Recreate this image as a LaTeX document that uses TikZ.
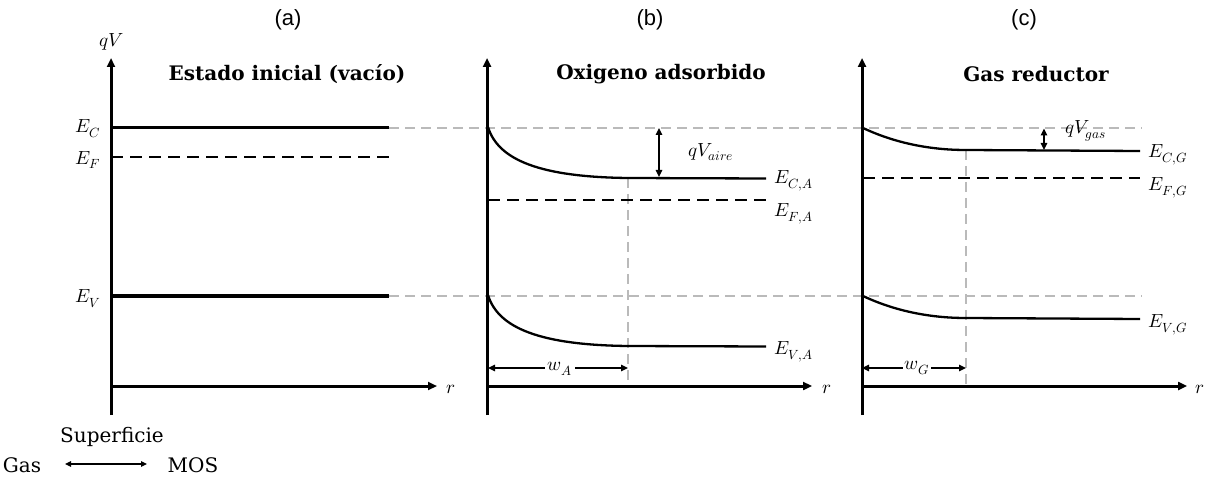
\documentclass[tikz,border=0pt]{standalone}
\usepackage{fontspec}
\usepackage{unicode-math}
\setmainfont{DejaVu Serif}
\setmathfont{Latin Modern Math}
\newfontfamily\sansf{Liberation Sans}
\usetikzlibrary{arrows.meta}
\begin{document}
\begin{tikzpicture}[x=1pt,y=-1pt,
  axis/.style={line width=3pt,-{Triangle[length=9pt,width=8pt]}},
  band/.style={line width=3pt},
  fermi/.style={line width=2.5pt,dash pattern=on 12pt off 7pt},
  curve/.style={line width=2.3pt},
  guide/.style={line width=1.3pt,color=black!27,dash pattern=on 10pt off 6pt},
  dim/.style={line width=1.4pt,{Triangle[length=7pt,width=6.5pt]}-{Triangle[length=7pt,width=6.5pt]}},
  lab/.style={font=\fontsize{19}{22}\selectfont,inner sep=0pt},
  ttl/.style={font=\fontsize{20}{24}\selectfont\bfseries,inner sep=0pt},
  pnl/.style={font=\sansf\fontsize{22}{26}\selectfont,inner sep=0pt},
  txt/.style={font=\fontsize{20}{24}\selectfont,inner sep=0pt}]
\useasboundingbox (0,0) rectangle (1215,478);

% gray guides
\coordinate (gc0) at (389,128); \coordinate (gc1) at (1142,128);
\coordinate (gv0) at (389,296); \coordinate (gv1) at (1142,296);
\draw[guide] (gc0) -- (gc1);
\draw[guide] (gv0) -- (gv1);
\coordinate (wa0) at (628,178); \coordinate (wa1) at (628,388);
\coordinate (wg0) at (966,150); \coordinate (wg1) at (966,388);
\draw[guide] (wa0) -- (wa1);
\draw[guide] (wg0) -- (wg1);

% panel labels and titles
\node[pnl] (pa) at (288,20) {(a)};
\node[pnl] (pb) at (650,20) {(b)};
\node[pnl] (pc) at (1024,20) {(c)};
\node[ttl] (ta) at (287,74) {Estado inicial (vacío)};
\node[ttl] (tb) at (661,74) {Oxigeno adsorbido};
\node[ttl] (tc) at (1036,74) {Gas reductor};

% ---------- panel (a)
\coordinate (Ba) at (111,415); \coordinate (Ta) at (111,58);
\coordinate (Oa) at (111,386); \coordinate (Ra) at (437,386);
\draw[axis] (Ba) -- (Ta);
\draw[axis] (Oa) -- (Ra);
\node[lab] (qv) at (112,42) {$qV$};
\node[lab] (ra) at (451,389) {$r$};
\coordinate (eca0) at (111,128); \coordinate (eca1) at (389,128);
\coordinate (efa0) at (111,157); \coordinate (efa1) at (389,157);
\coordinate (eva0) at (111,296); \coordinate (eva1) at (389,296);
\draw[band] (eca0) -- (eca1);
\draw[fermi] (efa0) -- (efa1);
\draw[band] (eva0) -- (eva1);
\node[lab,anchor=east] (lec) at (101,129) {$E_C$};
\node[lab,anchor=east] (lef) at (101,160) {$E_F$};
\node[lab,anchor=east] (lev) at (101,299) {$E_V$};

% ---------- panel (b)
\coordinate (Bb) at (487,415); \coordinate (Tb) at (487,58);
\coordinate (Ob) at (487,386); \coordinate (Rb) at (812,386);
\draw[axis] (Bb) -- (Tb);
\draw[axis] (Ob) -- (Rb);
\node[lab] (rb) at (827,389) {$r$};
\draw[curve] (488,127) .. controls (498,160) and (540,177) .. (628,178) -- (766,178.5);
\draw[curve] (488,295) .. controls (498,328) and (540,345) .. (628,346) -- (766,346.5);
\coordinate (efb0) at (488,200); \coordinate (efb1) at (766,200);
\draw[fermi] (efb0) -- (efb1);
\node[lab,anchor=west] (lecb) at (774,181) {$E_{C,A}$};
\node[lab,anchor=west] (lefb) at (774,214) {$E_{F,A}$};
\node[lab,anchor=west] (levb) at (774,352) {$E_{V,A}$};
\coordinate (qa0) at (659,128); \coordinate (qa1) at (659,177);
\draw[dim] (qa0) -- (qa1);
\node[lab] (lqa) at (711,152) {$qV_{aire}$};
\coordinate (wA0) at (488,368); \coordinate (wA1) at (628,368);
\draw[dim] (wA0) -- (wA1);
\node[lab,fill=white,inner sep=3pt] (lwa) at (560,369) {$w_A$};

% ---------- panel (c)
\coordinate (Bc) at (862,415); \coordinate (Tc) at (862,58);
\coordinate (Oc) at (862,386); \coordinate (Rc) at (1187,386);
\draw[axis] (Bc) -- (Tc);
\draw[axis] (Oc) -- (Rc);
\node[lab] (rc) at (1200,389) {$r$};
\draw[curve] (863,128) .. controls (880,136) and (915,150) .. (966,150) -- (1140,151);
\draw[curve] (863,296) .. controls (880,304) and (915,318) .. (966,318) -- (1140,319);
\coordinate (efc0) at (863,178); \coordinate (efc1) at (1140,178);
\draw[fermi] (efc0) -- (efc1);
\node[lab,anchor=west] (lecc) at (1148,155) {$E_{C,G}$};
\node[lab,anchor=west] (lefc) at (1148,188) {$E_{F,G}$};
\node[lab,anchor=west] (levc) at (1148,325) {$E_{V,G}$};
\coordinate (qg0) at (1044,128.5); \coordinate (qg1) at (1044,150);
\draw[dim] (qg0) -- (qg1);
\node[lab] (lqg) at (1086,131) {$qV_{gas}$};
\coordinate (wG0) at (862,368); \coordinate (wG1) at (966,368);
\draw[dim] (wG0) -- (wG1);
\node[lab,fill=white,inner sep=2pt] (lwg) at (917,368) {$w_G$};

% ---------- bottom legend
\node[txt] (sup) at (112,437) {Superficie};
\node[txt] (gas) at (22,465) {Gas};
\node[txt] (mos) at (193,465) {MOS};
\coordinate (ar0) at (65,464); \coordinate (ar1) at (147,464);
\draw[line width=1.2pt,{Triangle[length=6pt,width=5.5pt]}-{Triangle[length=6pt,width=5.5pt]}] (ar0) -- (ar1);
\end{tikzpicture}
\end{document}
